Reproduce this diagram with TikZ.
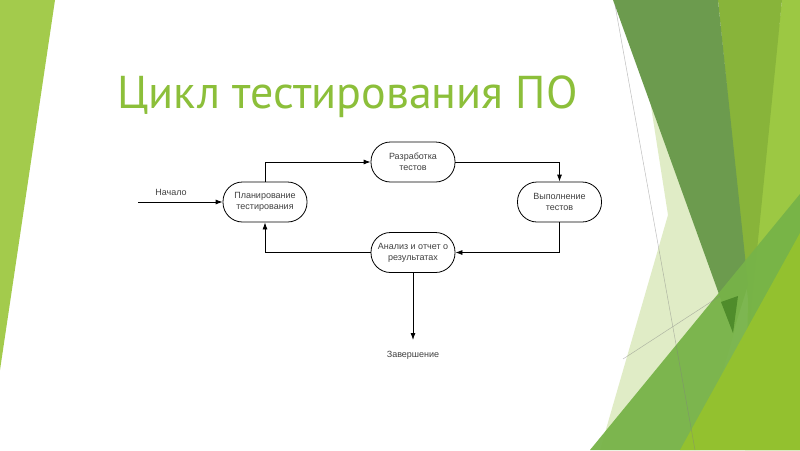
\documentclass[tikz,border=0pt]{standalone}
\usepackage{fontspec}
\setmainfont{Liberation Sans}
\newfontfamily\titlefont{PT Sans}
\usetikzlibrary{arrows.meta}
\usetikzlibrary{positioning}
\definecolor{titlegreen}{HTML}{8CBF3A}
\definecolor{leafgreen}{HTML}{A3CB4C}
\definecolor{palegreen}{HTML}{E0ECC6}
\definecolor{slategreen}{HTML}{6C9B4E}
\definecolor{olivegreen}{HTML}{88B43A}
\definecolor{brightgreen}{HTML}{9CC843}
\definecolor{midgreen}{HTML}{77B348}
\definecolor{limegreen}{HTML}{93C12F}
\definecolor{deepgreen}{HTML}{4F8C2B}
\tikzset{stage/.style = {draw, line width = 0.8pt, rounded corners = 19.5pt,
                         minimum width = 84pt, minimum height = 40pt, inner sep = 0,
                         align = center, text = black!75,
                         font = \fontsize{9}{11}\selectfont}}
\tikzset{flow/.style = {-{Latex[length = 7pt, width = 5pt]}, line width = 0.8pt}}
\tikzset{tag/.style = {inner sep = 0, text = black!75, font = \fontsize{9}{11}\selectfont}}

\begin{document}
\begin{tikzpicture}[x = 1pt, y = -1pt]
    \useasboundingbox (0, 0) rectangle (800, 450);
    \fill [white] (0, 0) rectangle (800, 450);
    \fill [leafgreen] (0, 0) -- (55, 0) -- (0, 370) -- cycle;
    \fill [palegreen] (650, 100) -- (668, 215) -- (600, 450) -- (700, 450) -- (735, 330) -- cycle;
    \fill [brightgreen] (782, 0) -- (800, 0) -- (800, 450) -- (745, 450) -- (748, 300) -- cycle;
    \fill [olivegreen] (718, 0) -- (782, 0) -- (750, 320) -- cycle;
    \fill [slategreen] (613, 0) -- (718, 0) -- (748, 285) -- (733, 333) -- cycle;
    \fill [midgreen, opacity = 0.95] (590, 450) -- (800, 194) -- (800, 450) -- cycle;
    \fill [deepgreen] (721, 302) -- (738, 296) -- (733, 333) -- cycle;
    \fill [limegreen] (680, 450) -- (800, 233) -- (800, 450) -- cycle;
    \draw [gray, opacity = 0.5, line width = 0.5pt] (615, 5) -- (695, 450);
    \draw [gray, opacity = 0.5, line width = 0.5pt] (623, 359) -- (720, 296);

    \node [anchor = base west, inner sep = 0, text = titlegreen,
           font = \titlefont\fontsize{46}{54}\selectfont] (title) at (117, 108) {Цикл тестирования ПО};

    \node [stage] (plan) at (265, 202) {Планирование\\тестирования};
    \node [stage] (dev) at (413, 162) {Разработка\\тестов};
    \node [stage] (run) at (559.5, 202) {Выполнение\\тестов};
    \node [stage] (report) at (413, 252.5) {Анализ и отчет о\\результатах};
    \coordinate (start) at (138, 202);
    \node [tag] (startlbl) at (171, 192) {Начало};
    \node [tag, anchor = north] (finish) at (413, 351) {Завершение};

    \draw [flow] (start) -- (plan);
    \draw [flow] (plan.north) |- (dev.west);
    \draw [flow] (dev.east) -| (run.north);
    \draw [flow] (run.south) |- (report.east);
    \draw [flow] (report.west) -| (plan.south);
    \draw [flow, shorten > = 11pt] (report.south) -- (finish.north);
\end{tikzpicture}
\end{document}
